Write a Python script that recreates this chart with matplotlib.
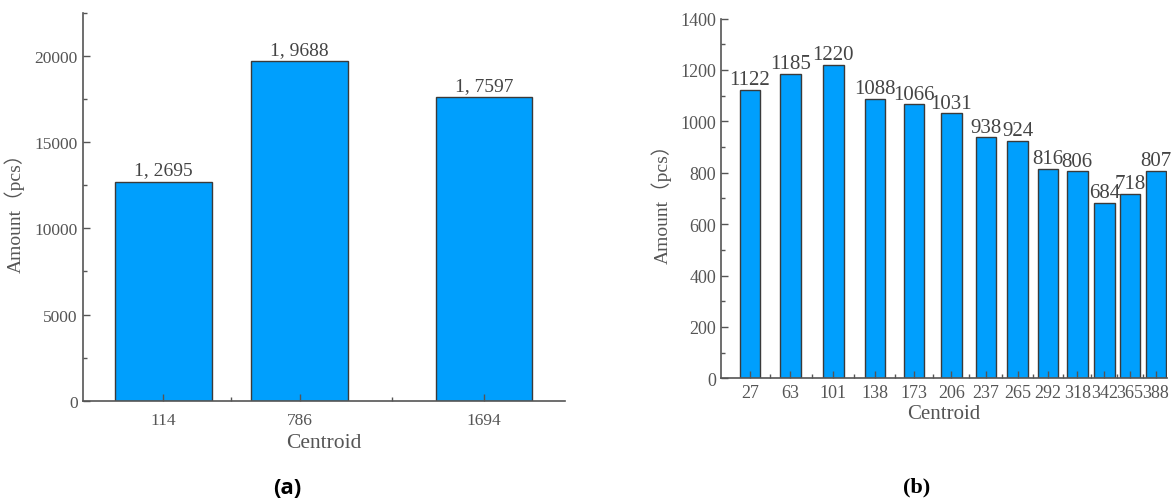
import matplotlib
matplotlib.use("Agg")
import matplotlib.pyplot as plt
import numpy as np
from matplotlib.ticker import FixedLocator, MultipleLocator

plt.rcParams['font.family'] = ['Liberation Serif', 'Noto Sans CJK SC', 'DejaVu Sans']

# (a) three clusters
centroid_a = [114, 786, 1694]
amount_a = [12695, 19688, 17597]
label_a = ['1, 2695', '1, 9688', '1, 7597']

# (b) thirteen clusters
centroid_b = [27, 63, 101, 138, 173, 206, 237, 265, 292, 318, 342, 365, 388]
amount_b = [1122, 1185, 1220, 1088, 1066, 1031, 938, 924, 816, 806, 684, 718, 807]

BAR = '#009FFD'
EDGE = '#3a3a3a'
AX = '#555555'
TXT = '#555555'

fig = plt.figure(figsize=(11.71, 5.02), dpi=100)
ax1 = fig.add_axes([0.0706, 0.1998, 0.4119, 0.7723])
ax2 = fig.add_axes([0.6157, 0.2444, 0.3806, 0.7167])


def style(ax):
    for s in ['top', 'right']:
        ax.spines[s].set_visible(False)
    for s in ['left', 'bottom']:
        ax.spines[s].set_color(AX)
        ax.spines[s].set_linewidth(1.2)
    ax.tick_params(which='both', direction='in', color=AX, labelcolor=TXT)
    ax.tick_params(which='major', length=5, width=1)
    ax.tick_params(which='minor', length=3, width=1)


# ---- (a)
ax1.bar(centroid_a, amount_a, width=477, color=BAR, edgecolor=EDGE, linewidth=1.0)
for x, y, t in zip(centroid_a, amount_a, label_a):
    ax1.text(x, y + 200, t, ha='center', va='bottom', fontsize=14, color='#444444')
ax1.set_xlim(114 - 396, 1694 + 399)
ax1.set_ylim(0, 22500)
ax1.set_xticks(centroid_a)
ax1.set_xticklabels([str(c) for c in centroid_a])
mids_a = [(centroid_a[i] + centroid_a[i + 1]) / 2 for i in range(len(centroid_a) - 1)]
ax1.xaxis.set_minor_locator(FixedLocator(mids_a))
ax1.set_yticks([0, 5000, 10000, 15000, 20000])
ax1.yaxis.set_minor_locator(MultipleLocator(2500))
style(ax1)
ax1.tick_params(axis='both', labelsize=12.5)
ax1.tick_params(axis='x', pad=8)
ax1.set_xlabel('Centroid', fontsize=15.5, color=TXT, labelpad=4)
ax1.set_ylabel('Amount（pcs）', fontsize=14, color=TXT, labelpad=7)

# ---- (b)
ax2.bar(centroid_b, amount_b, width=18.3, color=BAR, edgecolor=EDGE, linewidth=1.0)
for x, y in zip(centroid_b, amount_b):
    ax2.text(x, y + 2, str(y), ha='center', va='bottom', fontsize=15, color='#444444')
ax2.set_xlim(1.2, 397.5)
ax2.set_ylim(0, 1400)
ax2.set_xticks(centroid_b)
ax2.set_xticklabels([str(c) for c in centroid_b])
mids_b = [(centroid_b[i] + centroid_b[i + 1]) / 2 for i in range(len(centroid_b) - 1)]
ax2.xaxis.set_minor_locator(FixedLocator(mids_b))
ax2.yaxis.set_major_locator(MultipleLocator(200))
ax2.yaxis.set_minor_locator(MultipleLocator(100))
style(ax2)
ax2.tick_params(axis='both', labelsize=13)
ax2.tick_params(axis='x', pad=4)
ax2.set_xlabel('Centroid', fontsize=15, color=TXT, labelpad=2)
ax2.set_ylabel('Amount（pcs）', fontsize=14, color=TXT, labelpad=6)

fig.text(287 / 1171, 1 - 489 / 502, '(a)', ha='center', va='center', fontsize=16,
         fontweight='bold', family=['Open Sans', 'DejaVu Sans'])
fig.text(917 / 1171, 1 - 487 / 502, '(b)', ha='center', va='center', fontsize=16,
         fontweight='bold', family=['Liberation Serif', 'DejaVu Serif'])

fig.savefig('out.png', dpi=100)
